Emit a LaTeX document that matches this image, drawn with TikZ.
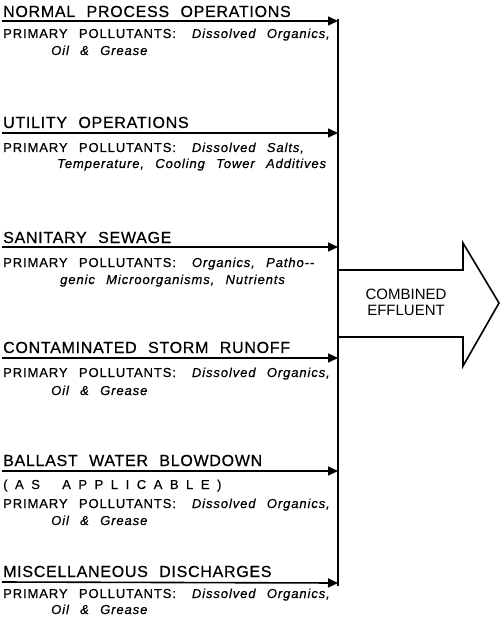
\documentclass[tikz,border=0pt]{standalone}
\usepackage{fontspec}
\setmainfont{Liberation Sans}
\newfontfamily\headfont[LetterSpace=4.5,WordSpace=2.2,FakeBold=0.6]{Liberation Sans}
\newfontfamily\notefont[LetterSpace=7,WordSpace=2.5,FakeBold=0.6]{Liberation Sans}
\newfontfamily\widefont[LetterSpace=58,WordSpace=2,FakeBold=0.6]{Liberation Sans}
\usetikzlibrary{arrows.meta}
\newcommand{\gap}{\hspace{16pt}}
\tikzset{source/.style = {anchor=base west, inner sep=0pt, font=\headfont\fontsize{16}{18}\selectfont}}
\tikzset{note/.style = {anchor=base west, inner sep=0pt, font=\notefont\fontsize{13}{15}\selectfont}}
\tikzset{feed/.style = {line width=1.6pt, -{Triangle[length=10pt,width=9pt]}}}
\tikzset{pipe/.style = {line width=1.6pt, line join=miter}}

\begin{document}
\begin{tikzpicture}[x=1pt,y=-1pt]
\useasboundingbox (0,0) rectangle (500,620);
% sources
\node[source] (src1) at (3,17) {NORMAL PROCESS OPERATIONS};
\node[note] (pol1) at (3,38) {PRIMARY POLLUTANTS:\gap\textit{Dissolved Organics,}};
\node[note] (more1) at (51,55) {\textit{Oil \& Grease}};
\coordinate (in1) at (2,21); \coordinate (j1) at (338,21);
\draw[feed] (in1) -- (j1);
%
\node[source] (src2) at (3,128) {UTILITY OPERATIONS};
\node[note] (pol2) at (3,152) {PRIMARY POLLUTANTS:\gap\textit{Dissolved Salts,}};
\node[note] (more2) at (57,168) {\textit{Temperature, Cooling Tower Additives}};
\coordinate (in2) at (2,133); \coordinate (j2) at (338,133);
\draw[feed] (in2) -- (j2);
%
\node[source] (src3) at (3,243) {SANITARY SEWAGE};
\node[note] (pol3) at (3,267) {PRIMARY POLLUTANTS:\gap\textit{Organics, Patho--}};
\node[note] (more3) at (60,284) {\textit{genic Microorganisms, Nutrients}};
\coordinate (in3) at (2,247); \coordinate (j3) at (338,247);
\draw[feed] (in3) -- (j3);
%
\node[source] (src4) at (3,353) {CONTAMINATED STORM RUNOFF};
\node[note] (pol4) at (3,377) {PRIMARY POLLUTANTS:\gap\textit{Dissolved Organics,}};
\node[note] (more4) at (51,395) {\textit{Oil \& Grease}};
\coordinate (in4) at (2,358); \coordinate (j4) at (338,358);
\draw[feed] (in4) -- (j4);
%
\node[source] (src5) at (3,466) {BALLAST WATER BLOWDOWN};
\node[note, font=\widefont\fontsize{13}{15}\selectfont] (cond5) at (3,489) {(AS APPLICABLE)};
\node[note] (pol5) at (3,508) {PRIMARY POLLUTANTS:\gap\textit{Dissolved Organics,}};
\node[note] (more5) at (51,525) {\textit{Oil \& Grease}};
\coordinate (in5) at (2,471); \coordinate (j5) at (338,471);
\draw[feed] (in5) -- (j5);
%
\node[source] (src6) at (3,577) {MISCELLANEOUS DISCHARGES};
\node[note] (pol6) at (3,598) {PRIMARY POLLUTANTS:\gap\textit{Dissolved Organics,}};
\node[note] (more6) at (51,614) {\textit{Oil \& Grease}};
\coordinate (in6) at (2,582); \coordinate (j6) at (338,583);
\draw[feed] (in6) -- (j6);
% collector and outlet
\coordinate (top) at (338,19); \coordinate (bot) at (338,586);
\draw[pipe] (top) -- (bot);
\draw[pipe] (338,270) -- (463,270) -- (463,243) -- (499,303) -- (463,366) -- (463,337) -- (338,337);
\node[align=center, inner sep=0pt, font=\fontsize{15}{16}\selectfont] (eff) at (406,302) {COMBINED\\EFFLUENT};
\end{tikzpicture}
\end{document}
